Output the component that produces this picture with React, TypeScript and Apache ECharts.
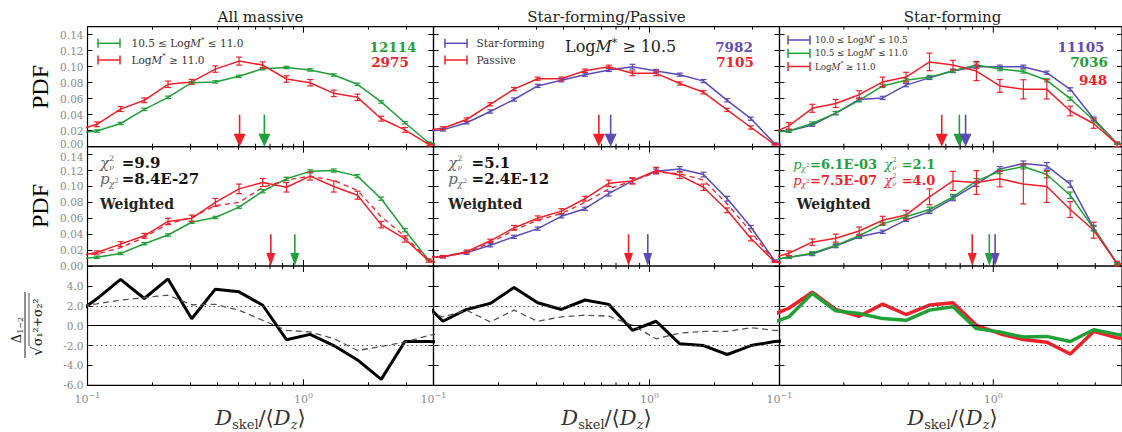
import React, { useEffect, useRef } from "react";
import * as echarts from "echarts";

// ---------- data ----------
// bin centres of D_skel/<D_z> (first and last lie just outside the plotted range)
const binCenters = [0.0859, 0.1105, 0.1423, 0.1832, 0.2359, 0.3037, 0.3908, 0.5031, 0.6478, 0.834, 1.0735, 1.382, 1.779, 2.29, 2.949, 3.796, 4.886];
const xTickValues = [0.2, 0.3, 0.4, 0.5, 0.6, 0.7, 0.8, 0.9, 1, 2, 3];
const pdfTickLabels = ["0.00", "0.02", "0.04", "0.06", "0.08", "0.10", "0.12", "0.14"];
const sigTickLabels = ["-6.0", "-4.0", "-2.0", "0.0", "2.0", "4.0"];

// Top row: raw PDFs
const amMidPdf = [0.017, 0.0196, 0.029, 0.0467, 0.0617, 0.08, 0.081, 0.088, 0.0975, 0.099, 0.096, 0.0896, 0.078, 0.056, 0.03, 0.005, 0.0];
const amMidErr = [0.0015, 0.0015, 0.0015, 0.0015, 0.0015, 0.0015, 0.0015, 0.0015, 0.0015, 0.0015, 0.0015, 0.0015, 0.0015, 0.0015, 0.001];
const amHighPdf = [0.019, 0.028, 0.047, 0.058, 0.078, 0.081, 0.097, 0.107, 0.102, 0.0846, 0.08, 0.0667, 0.0617, 0.035, 0.021, 0.003, 0.0];
const amHighErr = [0.003, 0.003, 0.003, 0.004, 0.003, 0.004, 0.005, 0.004, 0.004, 0.004, 0.004, 0.004, 0.003, 0.003, 0.002];

const sfPdf = [0.019, 0.021, 0.03, 0.044, 0.059, 0.076, 0.083, 0.09, 0.096, 0.1, 0.0946, 0.09, 0.082, 0.058, 0.035, 0.004, 0.0];
const sfErr = [0.0015, 0.0015, 0.002, 0.002, 0.002, 0.002, 0.002, 0.002, 0.003, 0.002, 0.002, 0.002, 0.002, 0.002, 0.001];
const passPdf = [0.02, 0.023, 0.034, 0.053, 0.072, 0.085, 0.085, 0.095, 0.1, 0.0917, 0.0917, 0.079, 0.068, 0.046, 0.024, 0.003, 0.0];
const passErr = [0.002, 0.002, 0.002, 0.002, 0.002, 0.002, 0.002, 0.002, 0.003, 0.003, 0.002, 0.002, 0.002, 0.002, 0.001];

const sfLowPdf = [0.018, 0.0196, 0.027, 0.042, 0.059, 0.061, 0.077, 0.086, 0.0946, 0.1, 0.1, 0.1, 0.0925, 0.0717, 0.035, 0.004, 0.0];
const sfLowErr = [0.0015, 0.0015, 0.002, 0.002, 0.002, 0.002, 0.002, 0.002, 0.002, 0.002, 0.002, 0.002, 0.002, 0.002, 0.001];
const sfMidPdf = [0.018, 0.0196, 0.029, 0.042, 0.058, 0.076, 0.083, 0.087, 0.095, 0.102, 0.097, 0.094, 0.083, 0.06, 0.033, 0.004, 0.0];
const sfMidErr = [0.0015, 0.002, 0.002, 0.002, 0.002, 0.002, 0.002, 0.002, 0.003, 0.002, 0.002, 0.002, 0.002, 0.002, 0.001];
const sfHighPdf = [0.0135, 0.026, 0.048, 0.054, 0.065, 0.081, 0.087, 0.106, 0.102, 0.0946, 0.076, 0.0717, 0.0717, 0.0446, 0.029, 0.003, 0.0];
const sfHighErr = [0.004, 0.005, 0.005, 0.005, 0.006, 0.006, 0.011, 0.006, 0.012, 0.008, 0.012, 0.012, 0.006, 0.006, 0.003];

// Middle row: weighted PDFs
const amMidW = [0.008, 0.011, 0.0158, 0.028, 0.039, 0.055, 0.061, 0.074, 0.094, 0.1096, 0.119, 0.12, 0.113, 0.0846, 0.045, 0.0075, 0.0];
const amMidWErr = [0.0015, 0.0015, 0.0015, 0.0015, 0.0015, 0.0015, 0.0015, 0.002, 0.002, 0.002, 0.002, 0.002, 0.002, 0.002, 0.001];
const amHighW = [0.012, 0.017, 0.0275, 0.038, 0.056, 0.06, 0.08, 0.097, 0.105, 0.099, 0.113, 0.1, 0.089, 0.052, 0.034, 0.0067, 0.0];
const amHighWErr = [0.002, 0.003, 0.003, 0.004, 0.004, 0.005, 0.006, 0.005, 0.006, 0.005, 0.007, 0.005, 0.004, 0.004, 0.002];
const amHighWDash = [0.013, 0.015, 0.023, 0.036, 0.053, 0.061, 0.076, 0.08, 0.099, 0.108, 0.113, 0.1075, 0.095, 0.062, 0.037, 0.0075, 0.0];

const sfW = [0.011, 0.0117, 0.0167, 0.026, 0.0367, 0.047, 0.0625, 0.072, 0.091, 0.107, 0.119, 0.122, 0.115, 0.0846, 0.049, 0.0067, 0.0];
const sfWErr = [0.0015, 0.002, 0.002, 0.002, 0.002, 0.002, 0.002, 0.003, 0.003, 0.003, 0.003, 0.003, 0.003, 0.002, 0.001];
const passW = [0.011, 0.0117, 0.018, 0.0317, 0.048, 0.06, 0.069, 0.0846, 0.104, 0.107, 0.12, 0.114, 0.099, 0.07, 0.0346, 0.0054, 0.0];
const passWErr = [0.0015, 0.002, 0.002, 0.003, 0.003, 0.003, 0.003, 0.004, 0.004, 0.004, 0.004, 0.004, 0.003, 0.003, 0.001];
const passWDash = [0.011, 0.0117, 0.017, 0.029, 0.045, 0.0575, 0.066, 0.08, 0.097, 0.107, 0.118, 0.116, 0.108, 0.078, 0.043, 0.006, 0.0];

const sfLowW = [0.006, 0.011, 0.015, 0.025, 0.0367, 0.043, 0.058, 0.068, 0.085, 0.103, 0.122, 0.129, 0.126, 0.103, 0.048, 0.003, 0.0];
const sfLowWErr = [0.0015, 0.002, 0.002, 0.002, 0.002, 0.002, 0.002, 0.003, 0.003, 0.003, 0.003, 0.004, 0.004, 0.003, 0.001];
const sfMidW = [0.006, 0.011, 0.016, 0.026, 0.038, 0.053, 0.062, 0.071, 0.087, 0.107, 0.119, 0.125, 0.115, 0.089, 0.047, 0.003, 0.0];
const sfMidWErr = [0.0015, 0.002, 0.002, 0.002, 0.002, 0.002, 0.003, 0.003, 0.003, 0.003, 0.003, 0.004, 0.004, 0.003, 0.001];
const sfHighW = [0.008, 0.016, 0.03, 0.035, 0.044, 0.0575, 0.064, 0.087, 0.107, 0.105, 0.1096, 0.103, 0.1, 0.071, 0.045, 0.003, 0.0];
const sfHighWErr = [0.003, 0.004, 0.005, 0.005, 0.005, 0.006, 0.01, 0.012, 0.015, 0.01, 0.025, 0.02, 0.01, 0.01, 0.003];

// Bottom row: significance Δ/σ
const amSig = [1.0, 2.7, 4.65, 2.73, 4.7, 0.7, 3.67, 3.4, 2.05, -1.41, -0.88, -2.0, -3.45, -5.4, -1.6, -1.6, -1.7];
const amSigW = [1.9, 2.2, 2.56, 2.83, 3.07, 2.1, 2.15, 1.55, 0.54, -0.47, -0.64, -1.3, -2.5, -2.1, -1.65, -1.0, -0.5];
const spSig = [2.8, 0.44, 1.63, 2.24, 3.83, 2.3, 1.63, 2.58, 2.14, -0.47, 0.44, -1.83, -2.0, -2.9, -2.0, -1.6, -1.5];
const spSigW = [1.7, 0.88, 1.56, 0.37, 1.56, 0.44, 0.88, 1.05, 0.95, 0.03, -1.32, -0.75, -0.58, -0.58, -0.2, -0.47, -0.5];
const sfSigHigh = [0.8, 1.75, 3.36, 1.63, 0.95, 2.17, 1.12, 2.07, 2.3, 0.03, -0.81, -1.39, -1.66, -2.85, -0.58, -1.22, -1.5];
const sfSigMid = [0.03, 0.88, 3.25, 1.49, 1.22, 0.71, 0.54, 1.56, 1.9, -0.3, -0.64, -1.15, -1.08, -1.6, -0.41, -0.88, -1.1];

// medians (arrows)
const amMedians = { high: 0.506, mid: 0.659, highW: 0.706, midW: 0.912 };
const spMedians = { pass: 0.583, sf: 0.661, passW: 0.8, sfW: 0.982 };
const sfMedians = { high: 0.574, mid: 0.694, low: 0.742, highW: 0.797, midW: 0.958, lowW: 1.02 };

// ---------- style ----------
const FONT = "DejaVu Serif";
const RED = "#f0202a";
const GREEN = "#22a038";
const PURPLE = "#5a4bb5";
const colLeft = [87.5, 433.5, 779.5];
const colWidth = 346;
const rowTop = [26.7, 146.7, 266];
const rowH = [120, 119.3, 119.3];
const colCenter = colLeft.map((l) => l + colWidth / 2);

function buildOption() {
  const grid: any[] = [];
  const xAxis: any[] = [];
  const yAxis: any[] = [];
  const series: any[] = [];
  const lblBase = { fontFamily: FONT, fontSize: 10.5, color: "#8a8a8a" };

  for (let r = 0; r < 3; r++) {
    for (let c = 0; c < 3; c++) {
      const g = r * 3 + c;
      const yMin = r === 2 ? -6 : 0;
      const yMax = r === 2 ? 6 : 0.15;
      const yInt = r === 2 ? 2 : 0.02;
      grid.push({ left: colLeft[c], top: rowTop[r], width: colWidth, height: rowH[r], show: true, borderColor: "#000", borderWidth: 1.2, backgroundColor: "transparent" });
      xAxis.push({
        type: "log", logBase: 10, gridIndex: g, min: 0.1, max: 4,
        axisLine: { show: false }, axisTick: { show: false }, splitLine: { show: false }, minorTick: { show: false },
        axisLabel: r === 2 ? {
          show: true, showMaxLabel: false, margin: 6,
          formatter: (v: number) => {
            const e = Math.round(Math.log10(v));
            return `{b|10}{s|${e < 0 ? "−" : ""}${Math.abs(e)}}`;
          },
          rich: {
            b: { fontFamily: FONT, fontSize: 11, color: "#8a8a8a", lineHeight: 16 },
            s: { fontFamily: FONT, fontSize: 8, color: "#8a8a8a", verticalAlign: "top", lineHeight: 9 },
          },
        } : { show: false },
      });
      const labels = r === 2 ? sigTickLabels : pdfTickLabels;
      const tick = { show: true, inside: true, length: 5, lineStyle: { color: "#000", width: 1 } };
      yAxis.push({
        type: "value", gridIndex: g, min: yMin, max: yMax, interval: yInt, position: "left",
        axisLine: { show: false }, splitLine: { show: false }, axisTick: tick,
        axisLabel: c === 0 ? {
          show: true, showMaxLabel: false, margin: 4, ...lblBase,
          formatter: (v: number) => {
            const idx = Math.round((v - yMin) / yInt);
            const s = labels[idx] ?? "";
            if (r === 0 && idx === 0) return `{lo|${s}}`;
            if (r === 1 && idx === labels.length - 1) return `{hi|${s}}`;
            return `{m|${s}}`;
          },
          rich: {
            m: { ...lblBase },
            lo: { ...lblBase, padding: [0, 0, 5, 0] },
            hi: { ...lblBase, padding: [5, 0, 0, 0] },
          },
        } : { show: false },
      });
      yAxis.push({
        type: "value", gridIndex: g, min: yMin, max: yMax, interval: yInt, position: "right",
        axisLine: { show: false }, splitLine: { show: false }, axisTick: tick, axisLabel: { show: false },
      });
      // x ticks (major + minor) on top and bottom
      series.push({
        type: "custom", xAxisIndex: g, yAxisIndex: 2 * g, silent: true, z: 6,
        data: xTickValues.map((v) => [v, yMin]),
        renderItem: (_p: any, api: any) => {
          const x = api.value(0);
          const b = api.coord([x, yMin]);
          const t = api.coord([x, yMax]);
          const len = x === 1 ? 6 : 3;
          const st = { stroke: "#000", lineWidth: 1 };
          return {
            type: "group",
            children: [
              { type: "line", shape: { x1: b[0], y1: b[1], x2: b[0], y2: b[1] - len }, style: st },
              { type: "line", shape: { x1: t[0], y1: t[1], x2: t[0], y2: t[1] + len }, style: st },
            ],
          };
        },
      });
    }
  }

  const line = (g: number, ys: number[], color: string, width: number, dash?: any, z = 3) => ({
    type: "line", xAxisIndex: g, yAxisIndex: 2 * g, silent: true, z,
    data: binCenters.map((x, i) => [x, ys[i]]),
    showSymbol: false, symbol: "none", clip: true,
    lineStyle: { color, width, type: dash ?? "solid" }, itemStyle: { color },
  });
  const errs = (g: number, ys: number[], es: number[], color: string, z = 4) => ({
    type: "custom", xAxisIndex: g, yAxisIndex: 2 * g, silent: true, z,
    data: es.map((e, i) => [binCenters[i + 1], ys[i + 1], e]),
    encode: { x: 0, y: 1 },
    renderItem: (_p: any, api: any) => {
      const x = api.value(0), y = api.value(1), e = api.value(2);
      const lo = api.coord([x, y - e]);
      const hi = api.coord([x, y + e]);
      const cw = 3;
      const st = { stroke: color, lineWidth: 1.2 };
      return {
        type: "group",
        children: [
          { type: "line", shape: { x1: lo[0], y1: lo[1], x2: hi[0], y2: hi[1] }, style: st },
          { type: "line", shape: { x1: lo[0] - cw, y1: lo[1], x2: lo[0] + cw, y2: lo[1] }, style: st },
          { type: "line", shape: { x1: hi[0] - cw, y1: hi[1], x2: hi[0] + cw, y2: hi[1] }, style: st },
        ],
      };
    },
  });
  const arrow = (g: number, xv: number, color: string, headW: number) => ({
    type: "custom", xAxisIndex: g, yAxisIndex: 2 * g, silent: true, z: 7,
    data: [[xv, 0.04]],
    renderItem: (_p: any, api: any) => {
      const top = api.coord([api.value(0), api.value(1)]);
      const bot = api.coord([api.value(0), 0]);
      const hh = 13;
      return {
        type: "group",
        children: [
          { type: "line", shape: { x1: top[0], y1: top[1], x2: bot[0], y2: bot[1] - hh + 1 }, style: { stroke: color, lineWidth: 1.6 } },
          { type: "polygon", shape: { points: [[bot[0] - headW / 2, bot[1] - hh], [bot[0] + headW / 2, bot[1] - hh], [bot[0], bot[1]]] }, style: { fill: color } },
        ],
      };
    },
  });
  const refLines = {
    silent: true, symbol: ["none", "none"], label: { show: false }, animation: false,
    data: [
      { yAxis: 2, lineStyle: { type: [1.5, 3], color: "#555", width: 1.2 } },
      { yAxis: -2, lineStyle: { type: [1.5, 3], color: "#555", width: 1.2 } },
      { yAxis: 0, lineStyle: { type: "solid", color: "#000", width: 1 } },
    ],
  };

  // top row
  series.push(line(0, amMidPdf, GREEN, 1.5), errs(0, amMidPdf, amMidErr, GREEN));
  series.push(line(0, amHighPdf, RED, 1.5), errs(0, amHighPdf, amHighErr, RED));
  series.push(arrow(0, amMedians.high, RED, 12), arrow(0, amMedians.mid, GREEN, 12));

  series.push(line(1, sfPdf, PURPLE, 1.5), errs(1, sfPdf, sfErr, PURPLE));
  series.push(line(1, passPdf, RED, 1.5), errs(1, passPdf, passErr, RED));
  series.push(arrow(1, spMedians.pass, RED, 12), arrow(1, spMedians.sf, PURPLE, 12));

  series.push(line(2, sfLowPdf, PURPLE, 1.5), errs(2, sfLowPdf, sfLowErr, PURPLE));
  series.push(line(2, sfMidPdf, GREEN, 1.5), errs(2, sfMidPdf, sfMidErr, GREEN));
  series.push(line(2, sfHighPdf, RED, 1.5), errs(2, sfHighPdf, sfHighErr, RED));
  series.push(arrow(2, sfMedians.high, RED, 12), arrow(2, sfMedians.mid, GREEN, 12), arrow(2, sfMedians.low, PURPLE, 12));

  // middle row
  series.push(line(3, amMidW, GREEN, 1.5), errs(3, amMidW, amMidWErr, GREEN));
  series.push(line(3, amHighW, RED, 1.5), errs(3, amHighW, amHighWErr, RED));
  series.push(line(3, amHighWDash, RED, 1.3, [5, 4]));
  series.push(arrow(3, amMedians.highW, RED, 9), arrow(3, amMedians.midW, GREEN, 9));

  series.push(line(4, sfW, PURPLE, 1.5), errs(4, sfW, sfWErr, PURPLE));
  series.push(line(4, passW, RED, 1.5), errs(4, passW, passWErr, RED));
  series.push(line(4, passWDash, RED, 1.3, [5, 4]));
  series.push(arrow(4, spMedians.passW, RED, 9), arrow(4, spMedians.sfW, PURPLE, 9));

  series.push(line(5, sfLowW, PURPLE, 1.5), errs(5, sfLowW, sfLowWErr, PURPLE));
  series.push(line(5, sfMidW, GREEN, 1.5), errs(5, sfMidW, sfMidWErr, GREEN));
  series.push(line(5, sfHighW, RED, 1.5), errs(5, sfHighW, sfHighWErr, RED));
  series.push(arrow(5, sfMedians.highW, RED, 9), arrow(5, sfMedians.midW, GREEN, 9), arrow(5, sfMedians.lowW, PURPLE, 9));

  // bottom row
  series.push({ ...line(6, amSig, "#000", 3), markLine: refLines });
  series.push(line(6, amSigW, "#555", 1.3, [6, 4]));
  series.push({ ...line(7, spSig, "#000", 3), markLine: refLines });
  series.push(line(7, spSigW, "#555", 1.3, [6, 4]));
  series.push({ ...line(8, sfSigHigh, RED, 3.5), markLine: refLines });
  series.push(line(8, sfSigMid, GREEN, 3.5, undefined, 4));

  // ---------- graphic texts ----------
  const T = (x: number, y: number, text: string, o: any = {}) => ({
    type: "text", x, y, silent: true, rotation: o.rot ?? 0,
    style: {
      text, fontFamily: o.family ?? FONT, fontSize: o.size ?? 12, fontWeight: o.weight ?? "normal",
      fontStyle: o.fstyle ?? "normal", fill: o.color ?? "#000", align: o.align ?? "left",
      verticalAlign: o.va ?? "middle", rich: o.rich,
    },
  });
  const legSym = (x1: number, x2: number, y: number, color: string) => ({
    type: "group", silent: true,
    children: [
      { type: "line", shape: { x1, y1: y, x2, y2: y }, style: { stroke: color, lineWidth: 1.5 } },
      { type: "line", shape: { x1, y1: y - 4.5, x2: x1, y2: y + 4.5 }, style: { stroke: color, lineWidth: 1.5 } },
      { type: "line", shape: { x1: x2, y1: y - 4.5, x2, y2: y + 4.5 }, style: { stroke: color, lineWidth: 1.5 } },
    ],
  });
  const massRich = (size: number, color: string) => ({
    n: { fontFamily: FONT, fontSize: size, fill: color, lineHeight: size + 4 },
    i: { fontFamily: FONT, fontSize: size, fill: color, fontStyle: "italic", lineHeight: size + 4 },
    s: { fontFamily: FONT, fontSize: size * 0.65, fill: color, verticalAlign: "top", lineHeight: size * 0.7 },
  });
  const chiNu = (x: number, y: number, symColor: string, valColor: string, val: string, size: number, off: number) => [
    T(x, y, "χ", { size, fstyle: "italic", color: symColor }),
    T(x + size * 0.62, y - size * 0.33, "2", { size: size * 0.52, color: symColor }),
    T(x + size * 0.62, y + size * 0.3, "ν", { size: size * 0.52, fstyle: "italic", color: symColor }),
    T(x + off, y, val, { size, weight: "bold", color: valColor }),
  ];
  const pChi = (x: number, y: number, symColor: string, valColor: string, val: string, size: number, off: number) => [
    T(x, y, "p", { size, fstyle: "italic", color: symColor }),
    T(x + size * 0.6, y + size * 0.3, "χ", { size: size * 0.6, fstyle: "italic", color: symColor }),
    T(x + size * 0.6 + size * 0.38, y + size * 0.05, "2", { size: size * 0.42, color: symColor }),
    T(x + off, y, val, { size, weight: "bold", color: valColor }),
  ];
  const xTitle = (cx: number) => T(cx, 418, "{d|D}{b|skel}{n|/⟨}{d|D}{z|z}{n|⟩}", {
    align: "center",
    rich: {
      d: { fontFamily: FONT, fontSize: 21, fontStyle: "italic", fill: "#333", lineHeight: 26 },
      n: { fontFamily: FONT, fontSize: 21, fill: "#333", lineHeight: 26 },
      b: { fontFamily: FONT, fontSize: 13, fill: "#333", verticalAlign: "bottom", lineHeight: 16 },
      z: { fontFamily: FONT, fontSize: 13, fontStyle: "italic", fill: "#333", verticalAlign: "bottom", lineHeight: 16 },
    },
  });

  const elements: any[] = [
    // titles
    T(colCenter[0], 17, "All massive", { size: 15, align: "center", color: "#222" }),
    T(colCenter[1], 17, "Star-forming/Passive", { size: 15, align: "center", color: "#222" }),
    T(colCenter[2], 17, "Star-forming", { size: 15, align: "center", color: "#222" }),
    // y titles
    T(40, 87, "PDF", { family: "Liberation Serif", size: 24, align: "center", rot: Math.PI / 2 }),
    T(40, 206, "PDF", { family: "Liberation Serif", size: 24, align: "center", rot: Math.PI / 2 }),
    {
      type: "group", x: 25, y: 325, rotation: Math.PI / 2, silent: true,
      children: [
        T(-5, -9, "{g|Δ}{s|1−2}", {
          align: "center",
          rich: {
            g: { fontFamily: FONT, fontSize: 13, fill: "#222", lineHeight: 16 },
            s: { fontFamily: FONT, fontSize: 8, fill: "#222", verticalAlign: "bottom", lineHeight: 10 },
          },
        }),
        { type: "line", shape: { x1: -33, y1: 0, x2: 33, y2: 0 }, style: { stroke: "#222", lineWidth: 1 } },
        T(-31, 12, "√", { size: 15, color: "#222" }),
        T(-21, 12, "σ₁²+σ₂²", { size: 12.5, color: "#222" }),
        { type: "line", shape: { x1: -21, y1: 4, x2: 32, y2: 4 }, style: { stroke: "#222", lineWidth: 0.8 } },
      ],
    },
    // x titles
    xTitle(colCenter[0]), xTitle(colCenter[1]), xTitle(colCenter[2]),

    // legend top-left
    legSym(98, 120, 43.3, GREEN), legSym(98, 120, 60, RED),
    T(131.5, 43.3, "{n|10.5 ≤ Log}{i|M}{s|*}{n| ≤ 11.0}", { rich: massRich(10.5, "#333") }),
    T(131.5, 60, "{n|Log}{i|M}{s|*}{n| ≥ 11.0}", { rich: massRich(10.5, "#333") }),
    T(393, 46.7, "12114", { size: 13.5, weight: "bold", color: GREEN, align: "center" }),
    T(390, 61.7, "2975", { size: 13.5, weight: "bold", color: RED, align: "center" }),

    // legend top-middle
    legSym(445, 467, 43.3, PURPLE), legSym(445, 467, 60, RED),
    T(476.5, 43.3, "Star-forming", { size: 10.5, color: "#333" }),
    T(476.5, 60, "Passive", { size: 10.5, color: "#333" }),
    T(565, 46.7, "{n|Log}{i|M}{s|*}{n| ≥ 10.5}", { rich: massRich(16, "#222") }),
    T(734, 46.7, "7982", { size: 13.5, weight: "bold", color: PURPLE, align: "center" }),
    T(735, 61.7, "7105", { size: 13.5, weight: "bold", color: RED, align: "center" }),

    // legend top-right
    legSym(788, 810, 40, PURPLE), legSym(788, 810, 53.3, GREEN), legSym(788, 810, 66.5, RED),
    T(815, 40, "{n|10.0 ≤ Log}{i|M}{s|*}{n| ≤ 10.5}", { rich: massRich(8.7, "#333") }),
    T(815, 53.3, "{n|10.5 ≤ Log}{i|M}{s|*}{n| ≤ 11.0}", { rich: massRich(8.7, "#333") }),
    T(815, 66.5, "{n|Log}{i|M}{s|*}{n| ≥ 11.0}", { rich: massRich(8.7, "#333") }),
    T(1081, 46.7, "11105", { size: 13.5, weight: "bold", color: PURPLE, align: "center" }),
    T(1089, 61.7, "7036", { size: 13.5, weight: "bold", color: GREEN, align: "center" }),
    T(1093, 80, "948", { size: 13.5, weight: "bold", color: RED, align: "center" }),

    // middle-row annotations
    ...chiNu(100, 163.3, "#666", "#111", "=9.9", 15, 21.7),
    ...pChi(100, 179.3, "#666", "#111", "=8.4E-27", 15, 21.7),
    T(100, 204.3, "Weighted", { size: 14, weight: "bold", color: "#222" }),

    ...chiNu(448.3, 163.3, "#666", "#111", "=5.1", 15, 23.3),
    ...pChi(448.3, 179.3, "#666", "#111", "=2.4E-12", 15, 23.3),
    T(448.3, 204.3, "Weighted", { size: 14, weight: "bold", color: "#222" }),

    ...pChi(793.3, 164.5, GREEN, GREEN, "=6.1E-03", 13, 16.7),
    ...chiNu(884.3, 164.5, GREEN, GREEN, "=2.1", 13, 17.4),
    ...pChi(793.3, 180.5, RED, RED, "=7.5E-07", 13, 16.7),
    ...chiNu(884.3, 180.5, RED, RED, "=4.0", 13, 17.4),
    T(796.7, 204.3, "Weighted", { size: 14, weight: "bold", color: "#222" }),
  ];

  return {
    animation: false,
    backgroundColor: "#fff",
    grid, xAxis, yAxis, series,
    graphic: { elements },
  };
}

export default function App() {
  const ref = useRef<HTMLDivElement>(null);
  useEffect(() => {
    const chart = echarts.init(ref.current as HTMLDivElement, null, { renderer: "svg" });
    chart.setOption(buildOption() as any);
    return () => chart.dispose();
  }, []);
  return <div ref={ref} style={{ position: "absolute", left: 0, top: 0, width: 1122, height: 432, background: "#fff" }} />;
}
